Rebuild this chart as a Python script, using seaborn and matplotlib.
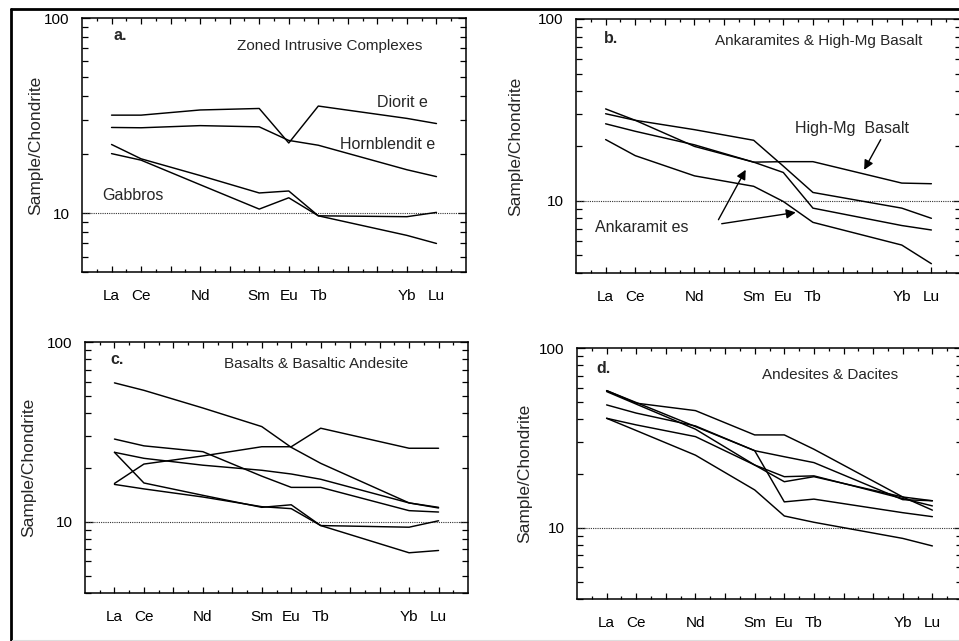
import numpy as np
import pandas as pd
import matplotlib
matplotlib.use("Agg")
import matplotlib.pyplot as plt
from matplotlib.lines import Line2D
from matplotlib.ticker import FixedLocator, FixedFormatter, NullFormatter
import seaborn as sns

# REE x positions (relative spacing as in the figure) and labels
elements = ['La', 'Ce', 'Nd', 'Sm', 'Eu', 'Tb', 'Yb', 'Lu']
positions = [0, 1, 3, 5, 6, 7, 10, 11]
tick_labels = ['La', 'Ce', '', 'Nd', '', 'Sm', 'Eu', 'Tb', '', '', 'Yb', 'Lu']

# a. Zoned intrusive complexes
a_diorite = [31.8, 31.8, 33.8, 34.4, 22.9, 35.4, 30.6, 28.8]
a_hornblendite = [27.5, 27.4, 28.1, 27.7, 23.6, 22.3, 16.7, 15.4]
a_gabbro1 = [22.5, 19.0, 15.6, 12.7, 13.0, 9.7, 9.6, 10.1]
a_gabbro2 = [20.2, 18.7, 14.0, 10.5, 12.0, 9.7, 7.7, 7.0]

# b. Ankaramites & high-Mg basalt
b_highmg = [30.1, 27.7, 19.9, 16.3, 16.4, 16.4, 12.5, 12.4]
b_ank1 = [32.0, 27.7, 24.6, 21.5, 15.5, 11.1, 9.1, 8.0]
b_ank2 = [26.5, 24.1, 20.3, 16.3, 14.3, 9.1, 7.3, 6.9]
b_ank3 = [21.7, 17.7, 13.7, 12.0, 9.9, 7.6, 5.7, 4.5]

# c. Basalts & basaltic andesite
c_s1 = [59.2, 53.8, 42.9, 33.8, 25.9, 21.1, 12.7, 11.9]
c_s2 = [28.8, 26.4, 24.5, 17.9, 15.5, 15.5, 11.5, 11.3]
c_s3 = [16.3, 20.9, 23.2, 26.1, 26.1, 33.1, 25.6, 25.6]
c_s4 = [24.3, 22.5, 20.6, 19.3, 18.4, 17.2, 12.7, 12.0]
c_s5 = [24.3, 16.4, 14.0, 12.0, 12.4, 9.5, 9.3, 10.1]
c_s6 = [16.1, 15.2, 13.7, 12.1, 11.8, 9.5, 6.7, 6.9]

# d. Andesites & dacites
d_s1 = [57.9, 49.3, 44.8, 32.8, 32.8, 27.3, 14.8, 12.5]
d_s2 = [57.9, 49.7, 36.5, 26.8, 13.9, 14.4, 12.1, 11.5]
d_s3 = [57.2, 48.7, 35.3, 22.3, 19.2, 19.4, 14.5, 13.2]
d_s4 = [48.2, 43.4, 36.8, 26.8, 24.8, 23.0, 14.3, 14.1]
d_s5 = [40.6, 37.3, 32.1, 22.3, 18.0, 19.2, 14.8, 14.1]
d_s6 = [40.6, 34.7, 25.3, 16.2, 11.6, 10.7, 8.7, 7.9]

panels = {
    'a': [a_diorite, a_hornblendite, a_gabbro1, a_gabbro2],
    'b': [b_highmg, b_ank1, b_ank2, b_ank3],
    'c': [c_s1, c_s2, c_s3, c_s4, c_s5, c_s6],
    'd': [d_s1, d_s2, d_s3, d_s4, d_s5, d_s6],
}
titles = {
    'a': 'Zoned Intrusive Complexes',
    'b': 'Ankaramites & High-Mg Basalt',
    'c': 'Basalts & Basaltic Andesite',
    'd': 'Andesites & Dacites',
}
ymins = {'a': 5, 'b': 4, 'c': 4, 'd': 4}

sns.set_theme(style='ticks')
plt.rcParams['font.family'] = ['Liberation Sans', 'DejaVu Sans']

fig = plt.figure(figsize=(9.59, 6.41), dpi=100)
W, H = 959, 641
# axes boxes in pixels: left, top, right, bottom
boxes = {
    'a': (82, 18, 466, 272),
    'b': (576, 19, 961, 273),
    'c': (85, 342, 468, 593),
    'd': (577, 348, 962, 599),
}
ylabel_x = {'a': -0.102, 'b': -0.136, 'c': -0.128, 'd': -0.117}

axes = {}
for key, (l, t, r, b) in boxes.items():
    ax = fig.add_axes([l / W, 1 - b / H, (r - l) / W, (b - t) / H])
    axes[key] = ax
    rows = []
    for i, vals in enumerate(panels[key]):
        for p, v in zip(positions, vals):
            rows.append({'pos': p, 'value': v, 'sample': i})
    df = pd.DataFrame(rows)
    sns.lineplot(data=df, x='pos', y='value', units='sample', estimator=None,
                 color='black', linewidth=1.05, ax=ax, legend=False)
    ax.set_yscale('log')
    ax.set_xlim(-1, 12)
    ax.set_ylim(ymins[key], 100)
    ax.axhline(10, color='#333333', lw=0.8, ls=(0, (1, 1)), zorder=1)

    ax.xaxis.set_major_locator(FixedLocator(list(range(12))))
    ax.xaxis.set_major_formatter(FixedFormatter(tick_labels))
    ax.xaxis.set_minor_locator(FixedLocator([x + 0.5 for x in range(-1, 12)]))
    ax.yaxis.set_major_locator(FixedLocator([10, 100]))
    ax.yaxis.set_major_formatter(FixedFormatter(['10', '100']))
    minors = [m * 10 ** e for e in (0, 1) for m in range(2, 10)]
    ax.yaxis.set_minor_locator(FixedLocator(minors))
    ax.yaxis.set_minor_formatter(NullFormatter())

    ax.tick_params(which='both', direction='in', top=True, right=True,
                   colors='black', width=0.9)
    ax.tick_params(axis='x', which='major', length=4.5, pad=12, labelsize=11)
    ax.tick_params(axis='x', which='minor', length=2.5)
    ax.tick_params(axis='y', which='major', length=6, pad=9, labelsize=11)
    ax.tick_params(axis='y', which='minor', length=4)
    for s in ax.spines.values():
        s.set_linewidth(1.1)
        s.set_color('black')

    ax.set_xlabel('')
    ax.set_ylabel('Sample/Chondrite', fontsize=12.5)
    ax.yaxis.set_label_coords(ylabel_x[key], 0.5)

# panel letters and titles
letter_pos = {'a': (0.06, 81), 'b': (-0.07, 78.6), 'c': (-0.135, 80), 'd': (-0.34, 77.3)}
title_pos = {'a': (7.37, 72), 'b': (7.2, 75.4), 'c': (6.85, 75), 'd': (7.55, 71)}
for key, ax in axes.items():
    lx, ly = letter_pos[key]
    ax.text(lx, ly, key + '.', fontsize=11.5, fontweight='bold', va='center', ha='left')
    tx, ty = title_pos[key]
    ax.text(tx, ty, titles[key], fontsize=11, va='center', ha='center')

ax = axes['a']
ax.text(9.0, 37, 'Diorit e', fontsize=11.5, va='center', ha='left')
ax.text(7.75, 22.5, 'Hornblendit e', fontsize=11.5, va='center', ha='left')
ax.text(-0.32, 12.3, 'Gabbros', fontsize=11.5, va='center', ha='left')

ax = axes['b']
ax.text(6.39, 25.1, 'High-Mg  Basalt', fontsize=11.5, va='center', ha='left')
ax.text(-0.37, 7.08, 'Ankaramit es', fontsize=11.5, va='center', ha='left')
arrow = dict(arrowstyle='-|>', color='black', lw=1.0, mutation_scale=14,
             shrinkA=0, shrinkB=0)
ax.annotate('', xy=(8.73, 14.8), xytext=(9.29, 21.7), arrowprops=arrow)
ax.annotate('', xy=(4.73, 14.8), xytext=(3.81, 7.86), arrowprops=arrow)
ax.annotate('', xy=(6.42, 8.62), xytext=(3.92, 7.47), arrowprops=arrow)

# outer frame of the figure
fig.add_artist(Line2D([11 / W, 11 / W], [0, 1 - 9 / H], transform=fig.transFigure,
                      color='black', lw=2.0))
fig.add_artist(Line2D([11 / W, 1], [1 - 9 / H, 1 - 9 / H], transform=fig.transFigure,
                      color='black', lw=2.0))
fig.add_artist(Line2D([12 / W, 1], [1.5 / H, 1.5 / H], transform=fig.transFigure,
                      color='#dddddd', lw=0.8))

fig.savefig('out.png', dpi=100, facecolor='white')
